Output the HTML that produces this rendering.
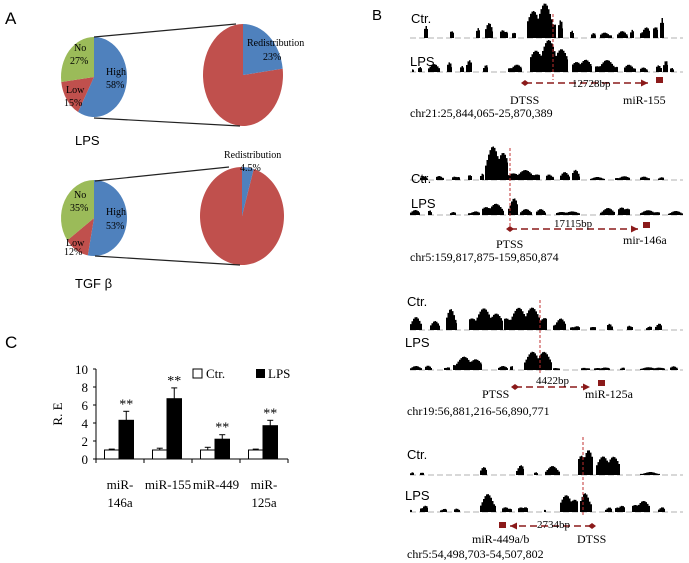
<!DOCTYPE html>
<html><head><meta charset="utf-8"><style>
body{margin:0;background:#fff;}
svg{display:block;font-family:"Liberation Serif",serif;}
.sans{font-family:"Liberation Sans",sans-serif;}
</style></head><body>
<svg id="fig" width="689" height="563" viewBox="0 0 689 563">
<g>
<text class="sans" x="5" y="24" font-size="17">A</text>
<g id="pies"></g>
<line x1="94" y1="37" x2="236" y2="24" stroke="#222" stroke-width="1.2"/>
<line x1="94" y1="118" x2="240" y2="126" stroke="#222" stroke-width="1.2"/>
<line x1="95" y1="181" x2="229" y2="167" stroke="#222" stroke-width="1.2"/>
<line x1="95" y1="256" x2="240" y2="265" stroke="#222" stroke-width="1.2"/>
<text class="sans" x="75" y="145" font-size="13">LPS</text>
<text class="sans" x="75" y="288" font-size="13">TGF β</text>
</g>
<g>
<text class="sans" x="5" y="348" font-size="17">C</text>
<g id="bars"></g>
</g>
<g>
<text class="sans" x="372" y="20" font-size="15">B</text>
<g id="tracks"></g>
</g>
</svg>
<script>
// ---------- Panel A data ----------
const pieGroups=["LPS","TGFβ"];
const highPct=[58,53];
const lowPct=[15,12];
const noPct=[27,35];
const redistPct=[23,4.5];
// ---------- Panel C data ----------
const genes=["miR-146a","miR-155","miR-449","miR-125a"];
const ctrVals=[1,1,1,1];
const ctrErr=[0.1,0.2,0.3,0.1];
const lpsVals=[4.3,6.7,2.2,3.7];
const lpsErr=[1.0,1.2,0.5,0.6];
const yTicks=[0,2,4,6,8,10];

const NS="http://www.w3.org/2000/svg";
function mk(tag,attrs,parent,txt){const e=document.createElementNS(NS,tag);for(const k in attrs)e.setAttribute(k,attrs[k]);if(txt!==undefined)e.textContent=txt;parent.appendChild(e);return e;}
function arc(cx,cy,rx,ry,a0,a1,fill,parent){
 const p=(a)=>[cx+rx*Math.sin(a*2*Math.PI/100),cy-ry*Math.cos(a*2*Math.PI/100)];
 const [x0,y0]=p(a0),[x1,y1]=p(a1);const large=(a1-a0)>50?1:0;
 return mk('path',{d:`M${cx},${cy}L${x0},${y0}A${rx},${ry} 0 ${large} 1 ${x1},${y1}Z`,fill:fill},parent);
}
const pies=document.getElementById('pies');
const smallP=[[94,77,33,40],[94,218,33,38]];
const bigP=[[243,75,40,51],[242,216,42,49]];
for(let i=0;i<2;i++){
 const [cx,cy,rx,ry]=smallP[i];
 let s=arc(cx,cy,rx,ry,0,highPct[i],'#4f81bd',pies);
 
 
 s=arc(cx,cy,rx,ry,highPct[i],highPct[i]+lowPct[i],'#c0504d',pies);
 
 
 s=arc(cx,cy,rx,ry,highPct[i]+lowPct[i],100,'#9bbb59',pies);
 
 
 const f=10;
 mk('text',{x:cx+12,y:cy-3+(i?0:1),'font-size':f},pies,'High');
 mk('text',{x:cx+12,y:cy+11,'font-size':f},pies,highPct[i]+'%');
 mk('text',{x:cx-28,y:cy+20+(i?8:0)-(i?0:4),'font-size':f},pies,'Low');
 mk('text',{x:cx-30,y:cy+33+(i?4:0)-(i?0:4),'font-size':f},pies,lowPct[i]+'%');
 mk('text',{x:cx-20,y:cy-26+(i?6:0),'font-size':f},pies,'No');
 mk('text',{x:cx-24,y:cy-13+(i?6:0),'font-size':f},pies,noPct[i]+'%');
 const [bx,by,brx,bry]=bigP[i];
 s=arc(bx,by,brx,bry,redistPct[i],100,'#c0504d',pies);
 
 
 s=arc(bx,by,brx,bry,0,redistPct[i],'#4f81bd',pies);
 
 
}
mk('text',{x:247,y:46,'font-size':10},pies,'Redistribution');
mk('text',{x:263,y:60,'font-size':10},pies,redistPct[0]+'%');
mk('text',{x:224,y:158,'font-size':10},pies,'Redistribution');
mk('text',{x:240,y:171,'font-size':10},pies,redistPct[1]+'%');

// ---------- Panel C ----------
const bars=document.getElementById('bars');
const X0=96,X1=288,Y0=459,Ytop=369,yMax=10;
const y=v=>Y0-(v/yMax)*(Y0-Ytop);
const gw=(X1-X0)/genes.length;
mk('line',{x1:X0,y1:Ytop,x2:X0,y2:Y0,stroke:'#000'},bars);
mk('line',{x1:X0,y1:Y0,x2:X1,y2:Y0,stroke:'#000'},bars);
yTicks.forEach(t=>{mk('line',{x1:X0-3,y1:y(t),x2:X0,y2:y(t),stroke:'#000'},bars);
 mk('text',{x:X0-8,y:y(t)+5,'font-size':13,'text-anchor':'end'},bars,t);});
for(let i=0;i<=genes.length;i++)mk('line',{x1:X0+i*gw,y1:Y0,x2:X0+i*gw,y2:Y0+4,stroke:'#000'},bars);
const bw=14.5;
genes.forEach((g,i)=>{
 const cx=X0+gw*i+gw/2-1;
 let r=mk('rect',{x:cx-bw,y:y(ctrVals[i]),width:bw,height:Y0-y(ctrVals[i]),fill:'#fff',stroke:'#000'},bars);
 
 
 r=mk('rect',{x:cx,y:y(lpsVals[i]),width:bw,height:Y0-y(lpsVals[i]),fill:'#000',stroke:'#000'},bars);
 
 
 const eb=(xx,v,e)=>{mk('line',{x1:xx,y1:y(v+e),x2:xx,y2:y(v),stroke:'#000'},bars);
  mk('line',{x1:xx-3,y1:y(v+e),x2:xx+3,y2:y(v+e),stroke:'#000'},bars);};
 eb(cx-bw/2,ctrVals[i],ctrErr[i]);eb(cx+bw/2,lpsVals[i],lpsErr[i]);
 mk('text',{x:cx+bw/2,y:y(lpsVals[i]+lpsErr[i])-3,'font-size':14,'text-anchor':'middle'},bars,'**');
 const parts=(g==='miR-155'||g==='miR-449')?[g]:['miR-',g.slice(4)];
 parts.forEach((p,k)=>mk('text',{x:X0+gw*i+gw/2,y:489+k*18,'font-size':13,'text-anchor':'middle'},bars,p));
});
mk('rect',{x:193,y:369,width:9,height:9,fill:'#fff',stroke:'#000'},bars);
mk('text',{x:206,y:378,'font-size':13},bars,'Ctr.');
mk('rect',{x:256,y:369,width:9,height:9,fill:'#000'},bars);
mk('text',{x:268,y:378,'font-size':13},bars,'LPS');
mk('text',{x:62,y:414,'font-size':13,transform:'rotate(-90 62 414)','text-anchor':'middle'},bars,'R. E');

// ---------- Panel B tracks ----------
const trackPeaks=[
 [38,410,683,[[424,428,12],[450,454,11],[476,480,10],[485,493,15],[500,508,11],[512,516,9],[527,556,36],[558,563,18],[570,574,8],[591,596,5],[600,612,6],[617,628,7],[630,634,9],[640,650,12],[653,658,18],[660,664,20]]],
 [72,410,683,[[412,414,3],[418,422,5],[428,440,8],[447,452,10],[460,464,6],[466,472,12],[483,488,8],[508,522,8],[530,568,32],[572,592,14],[595,618,12],[624,636,8],[640,648,5],[656,662,8],[663,668,12],[670,674,5]]],
 [180,410,683,[[420,428,4],[436,444,5],[452,460,5],[468,472,8],[480,484,8],[485,508,37],[508,540,10],[546,554,7],[560,570,8],[572,580,11],[590,605,3],[615,630,4],[640,650,4],[658,664,3]]],
 [215,410,683,[[410,420,5],[428,432,6],[450,456,3],[468,480,4],[482,504,12],[508,518,18],[520,532,6],[536,546,6],[556,580,4],[600,615,7],[618,630,10],[640,660,5],[668,683,4]]],
 [330,410,683,[[410,422,13],[430,440,9],[446,457,22],[469,503,22],[504,547,24],[553,566,12],[570,580,5],[590,596,5],[607,613,8],[627,633,6],[646,652,4],[655,662,7]]],
 [370,410,683,[[410,422,4],[425,432,5],[444,450,4],[453,482,14],[498,508,4],[510,513,4],[524,552,21],[553,560,3],[581,590,3],[594,610,3],[620,625,3],[640,665,3],[670,678,4]]],
 [475,410,683,[[410,414,3],[420,424,4],[480,487,8],[516,524,11],[534,538,3],[545,560,9],[578,593,30],[596,620,22],[640,660,3]]],
 [512,410,683,[[410,412,3],[420,428,8],[440,447,4],[454,460,4],[480,496,18],[502,512,6],[518,528,7],[544,546,3],[560,578,19],[580,592,20],[605,612,5],[615,625,8],[632,650,12],[658,665,5]]]
];
const trackLabels=[['Ctr.',411,19],['LPS',410,62],['Ctr.',411,179],['LPS',411,204],['Ctr.',407,302],['LPS',405,343],['Ctr.',407,455],['LPS',405,496]];
const tr=document.getElementById('tracks');
trackPeaks.forEach((t,ti)=>{
 const [b,l,r,pk]=t;
 mk('line',{x1:l,y1:b,x2:r,y2:b,stroke:'#999','stroke-width':0.8,'stroke-dasharray':'6 3'},tr);
 let d='';
 pk.forEach(([s,e,h],pi)=>{
  let pts=`M${s},${b}`;
  for(let x=s;x<e;x+=1.5){const f=Math.sin(Math.PI*(x-s+1)/(e-s+1));
   const hh=h*(0.45+0.55*f)*(0.55+0.45*Math.abs(Math.sin(x*2.3+pi*1.3)));pts+=`L${x},${b-hh}L${Math.min(x+1.5,e)},${b-hh}`;}
  d+=pts+`L${e},${b}Z`;
 });
 const p=mk('path',{d:d,fill:'#000'},tr);
 
 
 const [lt,lx,ly]=trackLabels[ti];
 mk('text',{x:lx,y:ly+4,'font-size':13,class:'sans'},tr,lt);
});
const red='#8b1a1a';
function anno(vx,vy0,vy1,ay,dx,tx,sx,sy,bp,bpx,bpy){
 mk('line',{x1:vx,y1:vy0,x2:vx,y2:vy1,stroke:'#c03030','stroke-width':1,'stroke-dasharray':'3 2'},tr);
 mk('line',{x1:dx,y1:ay,x2:tx,y2:ay,stroke:red,'stroke-width':1.6,'stroke-dasharray':'7 4'},tr);
 mk('path',{d:`M${dx-4},${ay}L${dx},${ay-3}L${dx+4},${ay}L${dx},${ay+3}Z`,fill:red},tr);
 const dir=tx>dx?1:-1;
 mk('path',{d:`M${tx},${ay}L${tx-dir*7},${ay-3.5}L${tx-dir*7},${ay+3.5}Z`,fill:red},tr);
 mk('rect',{x:sx,y:sy,width:7,height:6,fill:red},tr);
 mk('text',{x:bpx,y:bpy,'font-size':11},tr,bp);
}
anno(553,14,80,83,525,648,656,77,'12728bp',572,87);
mk('text',{x:510,y:104,'font-size':12},tr,'DTSS');
mk('text',{x:623,y:104,'font-size':12},tr,'miR-155');
mk('text',{x:410,y:117,'font-size':12},tr,'chr21:25,844,065-25,870,389');
anno(510,148,228,229,510,638,643,222,'17115bp',554,227);
mk('text',{x:496,y:248,'font-size':12},tr,'PTSS');
mk('text',{x:623,y:244,'font-size':12},tr,'mir-146a');
mk('text',{x:410,y:261,'font-size':12},tr,'chr5:159,817,875-159,850,874');
anno(540,300,373,387,515,590,598,380,'4422bp',536,384);
mk('text',{x:482,y:398,'font-size':12},tr,'PTSS');
mk('text',{x:585,y:398,'font-size':12},tr,'miR-125a');
mk('text',{x:407,y:415,'font-size':12},tr,'chr19:56,881,216-56,890,771');
anno(583,437,516,526,592,510,499,522,'2734bp',537,528);
mk('text',{x:472,y:543,'font-size':12},tr,'miR-449a/b');
mk('text',{x:577,y:543,'font-size':12},tr,'DTSS');
mk('text',{x:407,y:558,'font-size':12},tr,'chr5:54,498,703-54,507,802');
</script>
</body></html>
